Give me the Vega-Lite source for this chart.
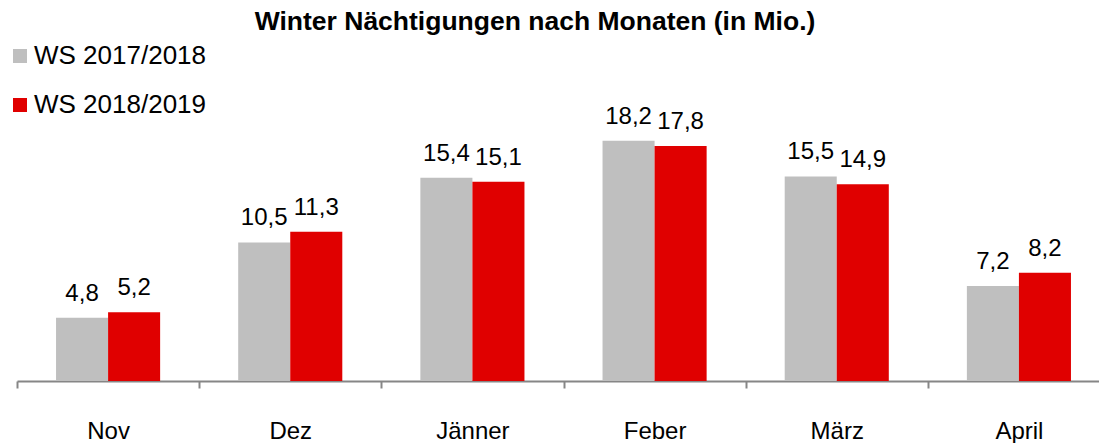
{
  "$schema": "https://vega.github.io/schema/vega-lite/v6.json",
  "width": 1082,
  "height": 264,
  "autosize": {"type": "none"},
  "padding": {"left": 17, "top": 117, "right": 0, "bottom": 62},
  "background": "white",
  "config": {
    "view": {"stroke": null},
    "font": "Liberation Sans",
    "locale": {"number": {"decimal": ",", "thousands": ".", "grouping": [3], "currency": ["", " €"]}}
  },
  "title": {
    "text": "Winter Nächtigungen nach Monaten (in Mio.)",
    "font": "Liberation Sans",
    "fontSize": 26.5,
    "fontWeight": "bold",
    "color": "#000000",
    "anchor": "middle",
    "frame": "group",
    "baseline": "alphabetic",
    "offset": -13,
    "dx": -23
  },
  "data": {
    "values": [
      {"Monat": "Nov", "Saison": "WS 2017/2018", "Wert": 4.8},
      {"Monat": "Nov", "Saison": "WS 2018/2019", "Wert": 5.2},
      {"Monat": "Dez", "Saison": "WS 2017/2018", "Wert": 10.5},
      {"Monat": "Dez", "Saison": "WS 2018/2019", "Wert": 11.3},
      {"Monat": "Jänner", "Saison": "WS 2017/2018", "Wert": 15.4},
      {"Monat": "Jänner", "Saison": "WS 2018/2019", "Wert": 15.1},
      {"Monat": "Feber", "Saison": "WS 2017/2018", "Wert": 18.2},
      {"Monat": "Feber", "Saison": "WS 2018/2019", "Wert": 17.8},
      {"Monat": "März", "Saison": "WS 2017/2018", "Wert": 15.5},
      {"Monat": "März", "Saison": "WS 2018/2019", "Wert": 14.9},
      {"Monat": "April", "Saison": "WS 2017/2018", "Wert": 7.2},
      {"Monat": "April", "Saison": "WS 2018/2019", "Wert": 8.2}
    ]
  },
  "encoding": {
    "x": {
      "field": "Monat",
      "type": "nominal",
      "sort": ["Nov", "Dez", "Jänner", "Feber", "März", "April"],
      "scale": {"range": [0, 1093], "paddingInner": 0, "paddingOuter": 0},
      "axis": {
        "title": null,
        "labelAngle": 0,
        "labelFontSize": 24,
        "labelColor": "#000000",
        "labelFont": "Liberation Sans",
        "labelPadding": 31,
        "tickBand": "extent",
        "tickSize": 7,
        "tickWidth": 2,
        "tickColor": "#868686",
        "domainColor": "#868686",
        "domainWidth": 2,
        "grid": false
      }
    },
    "xOffset": {
      "field": "Saison",
      "type": "nominal",
      "scale": {"paddingInner": 0, "paddingOuter": 0.75}
    },
    "y": {
      "field": "Wert",
      "type": "quantitative",
      "scale": {"domain": [0, 20], "nice": false},
      "axis": null
    }
  },
  "layer": [
    {
      "mark": {"type": "bar"},
      "encoding": {
        "color": {
          "field": "Saison",
          "type": "nominal",
          "scale": {"domain": ["WS 2017/2018", "WS 2018/2019"], "range": ["#BFBFBF", "#E00000"]},
          "legend": {
            "orient": "none",
            "legendX": -10,
            "legendY": -74,
            "title": null,
            "symbolType": "square",
            "symbolSize": 196,
            "symbolStrokeWidth": 0,
            "labelFontSize": 26,
            "labelLimit": 400,
            "labelFont": "Liberation Sans",
            "labelColor": "#000000",
            "labelOffset": 1,
            "rowPadding": 23,
            "padding": 0
          }
        }
      }
    },
    {
      "mark": {"type": "text", "baseline": "alphabetic", "dy": -17, "fontSize": 24, "font": "Liberation Sans", "color": "#000000"},
      "encoding": {
        "text": {"field": "Wert", "type": "quantitative", "format": ".1f"}
      }
    }
  ]
}
